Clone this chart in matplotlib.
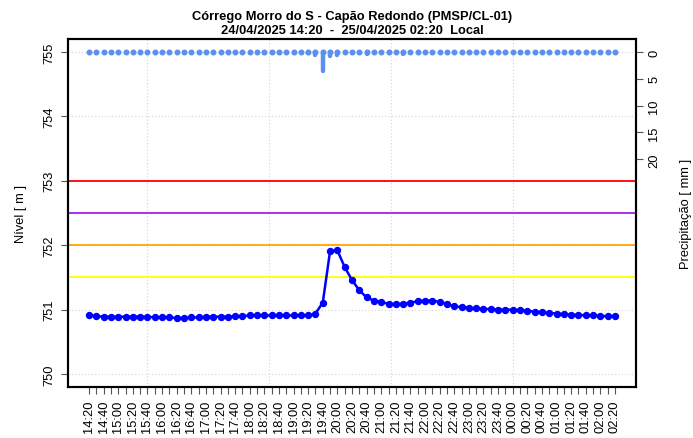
import matplotlib
matplotlib.use("Agg")
import matplotlib.pyplot as plt
import numpy as np

plt.rcParams['font.family'] = ['Liberation Sans', 'DejaVu Sans']

# ---- data ----
title_line1 = "Córrego Morro do S - Capão Redondo (PMSP/CL-01)"
title_line2 = "24/04/2025 14:20  -  25/04/2025 02:20  Local"

times = ["14:20", "14:30", "14:40", "14:50", "15:00", "15:10", "15:20", "15:30", "15:40", "15:50",
         "16:00", "16:10", "16:20", "16:30", "16:40", "16:50", "17:00", "17:10", "17:20", "17:30",
         "17:40", "17:50", "18:00", "18:10", "18:20", "18:30", "18:40", "18:50", "19:00", "19:10",
         "19:20", "19:30", "19:40", "19:50", "20:00", "20:10", "20:20", "20:30", "20:40", "20:50",
         "21:00", "21:10", "21:20", "21:30", "21:40", "21:50", "22:00", "22:10", "22:20", "22:30",
         "22:40", "22:50", "23:00", "23:10", "23:20", "23:30", "23:40", "23:50", "00:00", "00:10",
         "00:20", "00:30", "00:40", "00:50", "01:00", "01:10", "01:20", "01:30", "01:40", "01:50",
         "02:00", "02:10", "02:20"]

nivel = [750.91, 750.90, 750.89, 750.89, 750.89, 750.89, 750.89, 750.89, 750.89, 750.88,
         750.88, 750.88, 750.87, 750.87, 750.88, 750.88, 750.89, 750.89, 750.89, 750.89,
         750.90, 750.90, 750.91, 750.91, 750.91, 750.91, 750.91, 750.91, 750.91, 750.91,
         750.91, 750.94, 751.11, 751.91, 751.92, 751.66, 751.46, 751.30, 751.19, 751.14,
         751.12, 751.09, 751.09, 751.09, 751.11, 751.13, 751.14, 751.14, 751.12, 751.09,
         751.05, 751.04, 751.03, 751.02, 751.01, 751.01, 751.00, 751.00, 751.00, 750.99,
         750.98, 750.97, 750.96, 750.95, 750.94, 750.93, 750.92, 750.92, 750.91, 750.91,
         750.90, 750.90, 750.90]

chuva = [0.0] * 73
for i, v in [(24, 0.2), (28, 0.2), (30, 0.2), (31, 0.6), (32, 3.5), (33, 0.8),
             (34, 0.6), (38, 0.4), (41, 0.2), (43, 0.4)]:
    chuva[i] = v

cotas = [753.0, 752.5, 752.0, 751.5]
cotas_cores = ["#FF0000", "#A020F0", "#FFA500", "#FFFF00"]

nivel_ticks = [750, 751, 752, 753, 754, 755]
chuva_ticks = [0, 5, 10, 15, 20]

# ---- plot ----
FS = 9.3
fig = plt.figure(figsize=(6.93, 4.39), dpi=100)
ax = fig.add_axes([68/693, 51/439, 568/693, 348/439])

x = np.arange(len(times))
xmin, xmax = x[0], x[-1]
pad = 0.04 * (xmax - xmin)
ax.set_xlim(xmin - pad, xmax + pad)
ax.set_ylim(749.8, 755.2)

# grid (R pretty() on POSIX seconds: every 10000 s, first at 15:40)
grid_x = [8 + k * 1000 / 60 for k in range(4)]
for gx in grid_x:
    ax.axvline(gx, color="#d3d3d3", lw=0.8, ls=(0, (1, 2)), zorder=0)
for gy in nivel_ticks:
    ax.axhline(gy, color="#d3d3d3", lw=0.8, ls=(0, (1, 2)), zorder=0)

for c, col in zip(cotas, cotas_cores):
    ax.axhline(c, color=col, lw=1.3, zorder=1)

ax.plot(x, nivel, color="#0000FF", lw=1.8, marker="o", ms=4.3, zorder=3)

ax.set_yticks(nivel_ticks)
ax.set_yticklabels([str(v) for v in nivel_ticks], rotation=90, va="center")
ax.set_xticks(x)
ax.set_xticklabels([t if i % 2 == 0 else "" for i, t in enumerate(times)], rotation=90)
ax.tick_params(axis="both", direction="out", length=5, width=0.8, color="#555555",
               labelsize=FS, pad=4)
ax.set_ylabel("Nível [ m ]", fontsize=FS, labelpad=12)

for s in ax.spines.values():
    s.set_linewidth(1.5)
    s.set_color("black")

ax2 = ax.twinx()
ax2.set_ylim(62.4, -2.4)
ax2.vlines(x, 0, chuva, color="#5b8ff0", lw=3.2, capstyle="round", zorder=2)
ax2.plot(x, [0] * len(x), ls="none", marker="o", ms=3.3, color="#5b8ff0", zorder=2)
ax2.set_yticks(chuva_ticks)
ax2.set_yticklabels([str(v) for v in chuva_ticks], rotation=90, va="center")
ax2.tick_params(axis="y", direction="out", length=5, width=0.8, color="#555555",
                labelsize=FS, pad=4)
ax2.set_ylabel("Precipitação [ mm ]", fontsize=FS, labelpad=14)
for s in ax2.spines.values():
    s.set_linewidth(1.5)

fig.text(352/693, 1 - 17/439, title_line1, ha="center", va="center",
         fontsize=FS, fontweight="bold")
fig.text(352/693, 1 - 31/439, title_line2, ha="center", va="center",
         fontsize=FS, fontweight="bold")

fig.savefig("out.png", dpi=100)
